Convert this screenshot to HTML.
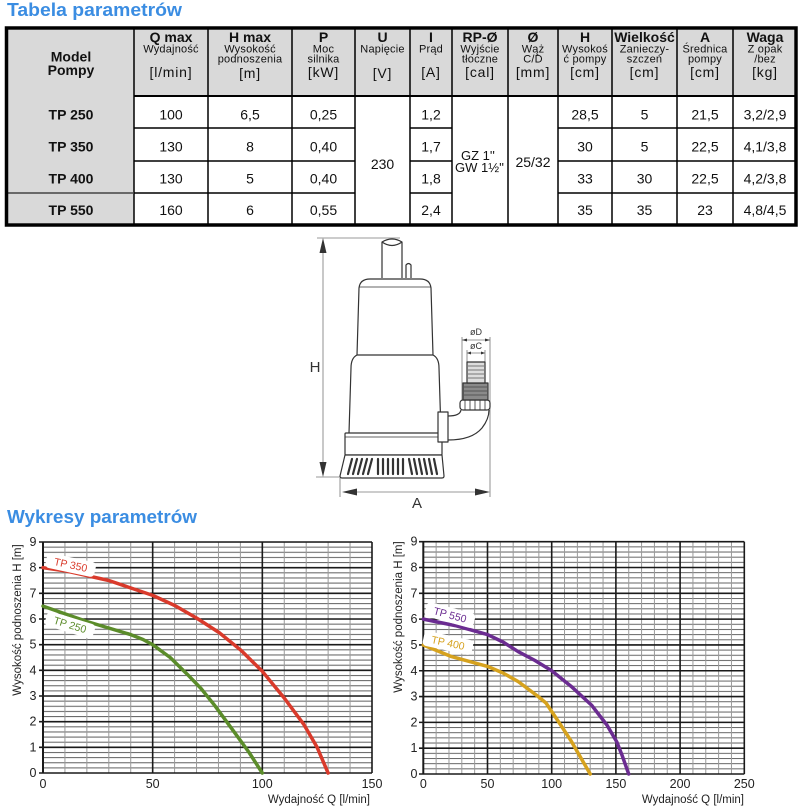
<!DOCTYPE html>
<html><head><meta charset="utf-8"><style>
html,body{margin:0;padding:0;background:#fff;}
svg{display:block;}
text{font-family:"Liberation Sans",sans-serif;}
.t{font-weight:bold;font-size:14px;text-anchor:middle;fill:#111;}
.s{font-size:11px;text-anchor:middle;fill:#111;letter-spacing:0.2px;}
.u{font-size:14px;text-anchor:middle;fill:#111;letter-spacing:0.8px;}
.b{font-size:14px;text-anchor:middle;fill:#111;}
.m{font-weight:bold;font-size:14px;text-anchor:middle;fill:#111;}
.k{font-size:12.5px;text-anchor:middle;fill:#222;}
.ax{font-size:11.5px;fill:#222;}
</style></head><body>
<svg width="803" height="811" viewBox="0 0 803 811">
<defs>
<pattern id="pl" patternUnits="userSpaceOnUse" x="42.5" y="772.5" width="21.933" height="5.1333"><path d="M0,0.5H21.933" stroke="#666" stroke-width="1"/><path d="M0.5,0V5.1333" stroke="#999" stroke-width="1"/></pattern>
<pattern id="pr" patternUnits="userSpaceOnUse" x="422.8" y="773.5" width="12.84" height="5.1622"><path d="M0,0.5H12.84" stroke="#666" stroke-width="1"/><path d="M0.5,0V5.1622" stroke="#999" stroke-width="1"/></pattern>
</defs>
<rect width="803" height="811" fill="#fff"/>

<!-- headings -->
<text x="7" y="16" font-size="18" font-weight="bold" fill="#3b8de2" textLength="175" lengthAdjust="spacingAndGlyphs">Tabela parametrów</text>
<text x="7" y="523" font-size="18" font-weight="bold" fill="#3b8de2" textLength="190" lengthAdjust="spacingAndGlyphs">Wykresy parametrów</text>

<!-- TABLE -->
<rect x="8" y="30" width="786" height="66" fill="#d9d9d9"/>
<rect x="8" y="96" width="126" height="127" fill="#d9d9d9"/>
<g stroke="#000" stroke-width="1.5">
<path d="M134,28V225M208,28V225M292,28V225M355,28V225M410,28V225M452,28V225M508,28V225M558,28V225M612,28V225M677,28V225M733,28V225"/>
<path d="M134,96H796" stroke-width="2"/>
<path d="M134,128H355M410,128H452M558,128H796M134,161H355M410,161H452M558,161H796M134,193H355M410,193H452M558,193H796"/>
<path d="M8,193H134" stroke="#444"/>
</g>
<rect x="6.5" y="28" width="789.5" height="197" fill="none" stroke="#000" stroke-width="3.5"/>

<!-- header text -->
<text class="m" x="71" y="61.5" font-size="15">Model</text>
<text class="m" x="71" y="75" font-size="15">Pompy</text>

<text class="t" x="171" y="42">Q max</text><text class="s" x="171" y="52.5">Wydajność</text><text class="u" x="171" y="77">[l/min]</text>
<text class="t" x="250" y="42">H max</text><text class="s" x="250" y="52.5">Wysokość</text><text class="s" x="250" y="62.5">podnoszenia</text><text class="u" x="250" y="78">[m]</text>
<text class="t" x="323.5" y="42">P</text><text class="s" x="323.5" y="52.5">Moc</text><text class="s" x="323.5" y="62.5">silnika</text><text class="u" x="323.5" y="77">[kW]</text>
<text class="t" x="382.5" y="42">U</text><text class="s" x="382.5" y="52.5">Napięcie</text><text class="u" x="382.5" y="78">[V]</text>
<text class="t" x="431" y="42">I</text><text class="s" x="431" y="52.5">Prąd</text><text class="u" x="431" y="77">[A]</text>
<text class="t" x="480" y="42">RP-Ø</text><text class="s" x="480" y="52.5">Wyjście</text><text class="s" x="480" y="62.5">tłoczne</text><text class="u" x="480" y="77">[cal]</text>
<text class="t" x="533" y="42">Ø</text><text class="s" x="533" y="52.5">Wąż</text><text class="s" x="533" y="62.5">C/D</text><text class="u" x="533" y="77">[mm]</text>
<text class="t" x="585" y="42">H</text><text class="s" x="585" y="52.5">Wysokoś</text><text class="s" x="585" y="62.5">ć pompy</text><text class="u" x="585" y="77">[cm]</text>
<text class="t" x="644.5" y="42" font-size="14.5">Wielkość</text><text class="s" x="644.5" y="52.5">Zanieczy-</text><text class="s" x="644.5" y="62.5">szczeń</text><text class="u" x="644.5" y="77">[cm]</text>
<text class="t" x="705" y="42">A</text><text class="s" x="705" y="52.5">Średnica</text><text class="s" x="705" y="62.5">pompy</text><text class="u" x="705" y="77">[cm]</text>
<text class="t" x="765" y="42" font-size="15">Waga</text><text class="s" x="765" y="52.5">Z opak</text><text class="s" x="765" y="62.5">/bez</text><text class="u" x="765" y="77">[kg]</text>

<!-- body text -->
<text class="m" x="71" y="119.5">TP 250</text>
<text class="m" x="71" y="151.5">TP 350</text>
<text class="m" x="71" y="183.5">TP 400</text>
<text class="m" x="71" y="215">TP 550</text>

<text class="b" x="171" y="119.5">100</text><text class="b" x="250" y="119.5">6,5</text><text class="b" x="323.5" y="119.5">0,25</text><text class="b" x="431" y="119.5">1,2</text><text class="b" x="585" y="119.5">28,5</text><text class="b" x="644.5" y="119.5">5</text><text class="b" x="705" y="119.5">21,5</text><text class="b" x="765" y="119.5">3,2/2,9</text>
<text class="b" x="171" y="151.5">130</text><text class="b" x="250" y="151.5">8</text><text class="b" x="323.5" y="151.5">0,40</text><text class="b" x="431" y="151.5">1,7</text><text class="b" x="585" y="151.5">30</text><text class="b" x="644.5" y="151.5">5</text><text class="b" x="705" y="151.5">22,5</text><text class="b" x="765" y="151.5">4,1/3,8</text>
<text class="b" x="171" y="183.5">130</text><text class="b" x="250" y="183.5">5</text><text class="b" x="323.5" y="183.5">0,40</text><text class="b" x="431" y="183.5">1,8</text><text class="b" x="585" y="183.5">33</text><text class="b" x="644.5" y="183.5">30</text><text class="b" x="705" y="183.5">22,5</text><text class="b" x="765" y="183.5">4,2/3,8</text>
<text class="b" x="171" y="215">160</text><text class="b" x="250" y="215">6</text><text class="b" x="323.5" y="215">0,55</text><text class="b" x="431" y="215">2,4</text><text class="b" x="585" y="215">35</text><text class="b" x="644.5" y="215">35</text><text class="b" x="705" y="215">23</text><text class="b" x="765" y="215">4,8/4,5</text>

<text class="b" x="382.5" y="169">230</text>
<text x="461" y="160" font-size="13" fill="#111">GZ 1''</text>
<text x="455" y="172" font-size="13" fill="#111">GW 1½''</text>
<text class="b" x="533" y="167" font-size="13.5">25/32</text>

<!-- PUMP DRAWING -->
<g stroke="#777" stroke-width="0.8" fill="none">
<path d="M317,238H400M316,477H340"/>
<path d="M323,250V465"/>
<path d="M340,478V497M490,337V497M462,337V400"/>
<path d="M352,492H480"/>
<path d="M462,340H490M467,353H485M467,350V362M485,350V362"/>
</g>
<g fill="#333">
<polygon points="323,238 319.5,253 326.5,253"/>
<polygon points="323,477 319.5,462 326.5,462"/>
<polygon points="342,492 357,488.5 357,495.5"/>
<polygon points="490,492 475,488.5 475,495.5"/>
<polygon points="462,340 467,338.5 467,341.5"/>
<polygon points="490,340 485,338.5 485,341.5"/>
<polygon points="467,353 471,351.5 471,354.5"/>
<polygon points="485,353 481,351.5 481,354.5"/>
</g>
<text x="315" y="372" font-size="15" text-anchor="middle" fill="#333">H</text>
<text x="417" y="508" font-size="15" text-anchor="middle" fill="#333">A</text>
<text x="476" y="335" font-size="9" text-anchor="middle" fill="#333">øD</text>
<text x="476" y="349" font-size="9" text-anchor="middle" fill="#333">øC</text>

<g stroke="#333" stroke-width="1.2" fill="none" stroke-linejoin="round">
<path d="M382,278V242Q392,236 402,242V278"/>
<path d="M382,242Q392,249 402,242"/>
<path d="M406,278V265Q408.5,262 411,265V278"/>
<path d="M357,355L359,288Q360,279 370,279H420Q430,279 431,288L433,355"/>
<path d="M359,287H431" stroke-width="0.8"/>
<path d="M357,355Q351,358 351,368L349,433M433,355Q439,358 439,368L441,433"/>
<path d="M357,355H433"/>
<rect x="345" y="433" width="97" height="22" rx="1" fill="#fff"/>
<path d="M345,437H442" stroke-width="0.8"/>
<path d="M345,455H442L444,476Q444,478 442,478H342Q340,478 340,476Z" fill="#fff"/>
<rect x="438" y="412" width="10" height="30" fill="#fff"/>
<path d="M448,416Q460,416 461,410"/>
<path d="M448,440Q472,440 482,428Q489,419 489,410"/>
<rect x="460" y="400" width="30" height="10" rx="3" fill="#fff"/>
<path d="M465,400V410M470,400V410M475,400V410M480,400V410M485,400V410" stroke-width="0.8"/>
<rect x="463" y="383" width="25" height="17" fill="#8a8a8a"/>
<path d="M463,387H488M463,391H488M463,395H488" stroke="#555" stroke-width="1"/>
<rect x="467" y="362" width="18" height="21" fill="#ddd"/>
<path d="M467,366H485M467,370H485M467,374H485M467,378H485" stroke="#777" stroke-width="1"/>
</g>
<g stroke="#333" stroke-width="2.2" stroke-linecap="round">
<path d="M352,459L348,474M357,459L353,474M362,459L358,474M367,459L363,474M372,459L368,474"/>
<path d="M378,459V474M383,459V474M388,459V474M393,459V474M398,459V474M403,459V474"/>
<path d="M409,459L412,474M414,459L417,474M419,459L422,474M424,459L427,474M429,459L432,474M434,459L437,474"/>
</g>

<!-- LEFT CHART -->
<rect x="43" y="542" width="329" height="231.5" fill="url(#pl)"/>
<g stroke="#1a1a1a" stroke-width="1.6">
<path d="M39,773H372M39,747.33H372M39,721.67H372M39,696H372M39,670.33H372M39,644.67H372M39,619H372M39,593.33H372M39,567.67H372M39,542H372"/>
<path d="M152.67,542V773M262.33,542V773M372,542V773"/>
<path d="M43,542V773" stroke-width="2"/>
</g>
<g fill="none" stroke-width="3.5" stroke-linejoin="round" stroke-linecap="round">
<polyline stroke="#d93a2b" points="43,567.7 67.1,571.2 108.8,580.5 152.7,595.4 175,605.6 196.5,618 219,632.5 240.4,649.8 262.3,671.3 284.2,698 304,724.7 317.1,747.3 328.1,773"/>
<polyline stroke="#5b8c2a" points="43,606.1 86.9,621.5 130.7,634.6 143,639.5 152.7,644.7 162,651.5 170.2,657.5 187.7,674.7 201,688.5 214.1,704.7 233.8,731.4 249.1,752.5 262.3,773"/>
</g>
<g transform="translate(70.7,565) rotate(12)"><rect x="-25" y="-7.5" width="50" height="15" rx="4" fill="#fff"/><text y="3.5" text-anchor="middle" font-size="10.5" fill="#d93a2b">TP 350</text></g>
<g transform="translate(70,625) rotate(17)"><rect x="-25" y="-7.5" width="50" height="15" rx="4" fill="#fff"/><text y="3.5" text-anchor="middle" font-size="10.5" fill="#5b8c2a">TP 250</text></g>

<text class="k" x="33" y="546">9</text><text class="k" x="33" y="571.7">8</text><text class="k" x="33" y="597.3">7</text><text class="k" x="33" y="623">6</text><text class="k" x="33" y="648.7">5</text><text class="k" x="33" y="674.3">4</text><text class="k" x="33" y="700">3</text><text class="k" x="33" y="725.7">2</text><text class="k" x="33" y="751.3">1</text><text class="k" x="33" y="777">0</text>
<text class="k" x="43" y="788">0</text><text class="k" x="152.7" y="788">50</text><text class="k" x="262.3" y="788">100</text><text class="k" x="372" y="788">150</text>
<text class="ax" x="370" y="803" text-anchor="end">Wydajność Q [l/min]</text>
<text class="ax" transform="translate(21,620) rotate(-90)" text-anchor="middle">Wysokość podnoszenia H [m]</text>

<!-- RIGHT CHART -->
<rect x="423.3" y="541.7" width="321" height="232.8" fill="url(#pr)"/>
<g stroke="#1a1a1a" stroke-width="1.6">
<path d="M419,774H744.3M419,748.19H744.3M419,722.38H744.3M419,696.57H744.3M419,670.76H744.3M419,644.94H744.3M419,619.13H744.3M419,593.32H744.3M419,567.51H744.3M419,541.7H744.3"/>
<path d="M487.5,541.7V774M551.7,541.7V774M615.9,541.7V774M680.1,541.7V774M744.3,541.7V774"/>
<path d="M423.3,541.7V774" stroke-width="2"/>
</g>
<g fill="none" stroke-width="3.5" stroke-linejoin="round" stroke-linecap="round">
<polyline stroke="#6b2c91" points="423.3,619.1 455.4,625.6 487.5,634.6 503,642 518.3,651.7 535,660.5 551.7,670.8 571,686.2 591.5,705.1 606.9,725 616.7,741.7 622.3,755.9 628.7,774"/>
<polyline stroke="#d6a21e" points="423.3,645 451.5,656.6 487.5,666.4 503,673 518.3,681.6 538.3,696.6 546,703 551.7,711.5 560.7,725 571.6,741.7 581.2,758.5 590.2,774"/>
</g>
<g transform="translate(450,615) rotate(15)"><rect x="-25" y="-7.5" width="50" height="15" rx="4" fill="#fff"/><text y="3.5" text-anchor="middle" font-size="10.5" fill="#6b2c91">TP 550</text></g>
<g transform="translate(448,643) rotate(12)"><rect x="-25" y="-7.5" width="50" height="15" rx="4" fill="#fff"/><text y="3.5" text-anchor="middle" font-size="10.5" fill="#d6a21e">TP 400</text></g>

<text class="k" x="414" y="545.7">9</text><text class="k" x="414" y="571.5">8</text><text class="k" x="414" y="597.3">7</text><text class="k" x="414" y="623.1">6</text><text class="k" x="414" y="648.9">5</text><text class="k" x="414" y="674.8">4</text><text class="k" x="414" y="700.6">3</text><text class="k" x="414" y="726.4">2</text><text class="k" x="414" y="752.2">1</text><text class="k" x="414" y="778">0</text>
<text class="k" x="423.3" y="788">0</text><text class="k" x="487.5" y="788">50</text><text class="k" x="551.7" y="788">100</text><text class="k" x="615.9" y="788">150</text><text class="k" x="680.1" y="788">200</text><text class="k" x="744.3" y="788">250</text>
<text class="ax" x="744" y="803" text-anchor="end">Wydajność Q [l/min]</text>
<text class="ax" transform="translate(402,617) rotate(-90)" text-anchor="middle">Wysokość podnoszenia H [m]</text>
</svg>
</body></html>
